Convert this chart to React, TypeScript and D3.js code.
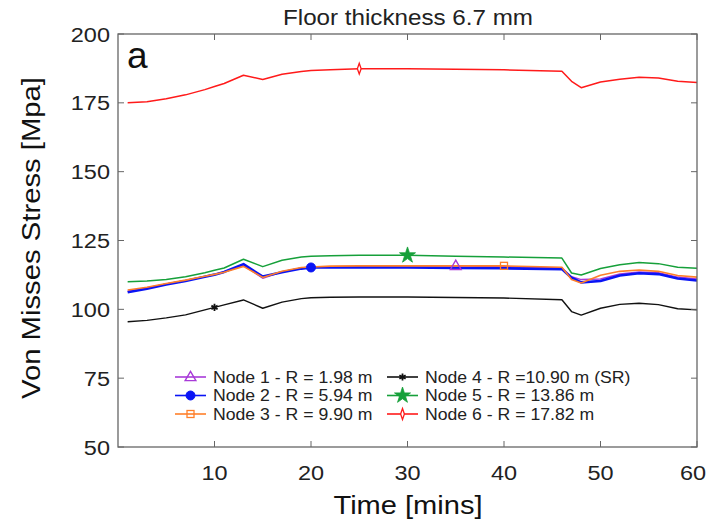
import React from 'react';
import * as d3 from 'd3';

// time samples (mins) shared by all nodes
const times = [1, 3, 5, 7, 9, 10, 11, 13, 15, 17, 19, 20, 22, 25, 30, 35, 40, 46, 47, 48, 50, 52, 54, 56, 58, 60];

const node1 = [106.6, 107.8, 109.2, 110.5, 111.9, 112.7, 113.6, 116.0, 111.3, 113.6, 115.0, 115.3, 115.5, 115.6, 115.7, 115.8, 115.5, 115.0, 111.8, 110.8, 111.0, 112.8, 113.6, 113.3, 111.7, 111.0];
const node2 = [106.2, 107.5, 109.0, 110.3, 111.8, 112.6, 113.6, 116.4, 111.9, 113.5, 114.8, 115.2, 115.2, 115.2, 115.2, 115.0, 114.9, 114.6, 111.5, 109.8, 110.3, 112.3, 113.1, 112.8, 111.2, 110.5];
const node3 = [107.0, 108.0, 109.4, 110.6, 112.0, 112.7, 113.5, 115.6, 111.6, 113.8, 115.2, 115.4, 115.7, 115.8, 115.8, 115.8, 115.8, 115.3, 110.8, 109.6, 112.4, 113.8, 114.3, 113.8, 112.3, 111.7];
const node4 = [95.5, 96.0, 96.9, 98.0, 99.8, 100.7, 101.6, 103.4, 100.4, 102.6, 103.9, 104.2, 104.4, 104.5, 104.5, 104.3, 104.1, 103.5, 99.2, 97.9, 100.4, 101.8, 102.2, 101.7, 100.2, 99.8];
const node5 = [110.0, 110.3, 110.8, 111.8, 113.3, 114.2, 115.0, 118.2, 115.5, 117.8, 119.0, 119.3, 119.5, 119.6, 119.6, 119.3, 119.0, 118.6, 113.2, 112.5, 114.8, 116.2, 117.0, 116.6, 115.3, 114.9];
const node6 = [175.0, 175.4, 176.5, 177.9, 179.8, 180.9, 182.0, 185.0, 183.5, 185.4, 186.4, 186.7, 187.0, 187.4, 187.4, 187.2, 187.0, 186.5, 182.8, 180.5, 182.6, 183.6, 184.3, 184.0, 182.8, 182.4];

const seriesLabels = [
  'Node 1 - R = 1.98 m',
  'Node 2 - R = 5.94 m',
  'Node 3 - R = 9.90 m',
  'Node 4 - R =10.90 m (SR)',
  'Node 5 - R = 13.86 m',
  'Node 6 - R = 17.82 m',
];
const seriesValues = [node1, node2, node3, node4, node5, node6];
const seriesColors = ['#a83ad8', '#0a14f5', '#ff7f2a', '#111111', '#16a03a', '#ff1a1a'];
const seriesWidths = [1.5, 2.6, 1.6, 1.4, 1.5, 1.5];
const markerTimes = [35, 20, 40, 10, 30, 25];

const xTicks = [10, 20, 30, 40, 50, 60];
const yTicks = [50, 75, 100, 125, 150, 175, 200];

const W = 707;
const H = 528;
const m = { left: 118, right: 697, top: 34, bottom: 447 };
const font = 'Arial, "Liberation Sans", Helvetica, sans-serif';

function Marker({ i, x, y }: { i: number; x: number; y: number }) {
  const c = seriesColors[i];
  if (i === 0) {
    return <path d={d3.symbol(d3.symbolTriangle, 50)()!} transform={`translate(${x},${y + 0.5})`} fill="none" stroke={c} strokeWidth={1.4} />;
  }
  if (i === 1) {
    return <circle cx={x} cy={y} r={4.5} fill={c} stroke={c} />;
  }
  if (i === 2) {
    return <rect x={x - 3.5} y={y - 3.5} width={7} height={7} fill="none" stroke={c} strokeWidth={1.3} />;
  }
  if (i === 3) {
    return <path d={d3.symbol(d3.symbolAsterisk, 36)()!} transform={`translate(${x},${y})`} fill="none" stroke={c} strokeWidth={1.8} />;
  }
  if (i === 4) {
    return <path d={d3.symbol(d3.symbolStar, 80)()!} transform={`translate(${x},${y})`} fill={c} stroke={c} strokeWidth={0.8} />;
  }
  return <path d={d3.symbol(d3.symbolDiamond, 34)()!} transform={`translate(${x},${y}) scale(0.6,1)`} fill="#fff" stroke={c} strokeWidth={2} />;
}

export default function App() {
  const x = d3.scaleLinear().domain([0, 60]).range([m.left, m.right]);
  const y = d3.scaleLinear().domain([50, 200]).range([m.bottom, m.top]);
  const line = d3
    .line<number>()
    .x((_, j) => x(times[j]))
    .y((d) => y(d));

  const drawOrder = [0, 1, 2, 3, 4, 5];
  const frame = '#666';
  const tl = 6;

  return (
    <svg width={W} height={H} style={{ position: 'absolute', left: 0, top: 0, background: '#fff' }} fontFamily={font}>
      <rect x={0} y={0} width={W} height={H} fill="#fff" />

      {/* title */}
      <text x={408} y={25} textAnchor="middle" fontSize={21.5} fill="#222" textLength={250} lengthAdjust="spacingAndGlyphs">Floor thickness 6.7 mm</text>

      {/* series */}
      {drawOrder.map((i) => (
        <path key={i} d={line(seriesValues[i])!} fill="none" stroke={seriesColors[i]} strokeWidth={seriesWidths[i]} strokeLinejoin="round" />
      ))}
      {drawOrder.map((i) => {
        const j = times.indexOf(markerTimes[i]);
        return <Marker key={'m' + i} i={i} x={x(times[j])} y={y(seriesValues[i][j])} />;
      })}

      {/* frame and ticks */}
      <rect x={m.left} y={m.top} width={m.right - m.left} height={m.bottom - m.top} fill="none" stroke={frame} strokeWidth={1.3} />
      {xTicks.map((t) => (
        <g key={'x' + t}>
          <line x1={x(t)} x2={x(t)} y1={m.bottom} y2={m.bottom - tl} stroke={frame} />
          <line x1={x(t)} x2={x(t)} y1={m.top} y2={m.top + tl} stroke={frame} />
          <text transform={`translate(${x(t) - (t === 60 ? 4 : 0)},480) scale(1.12,1)`} textAnchor="middle" fontSize={21} fill="#222">{t}</text>
        </g>
      ))}
      {yTicks.map((t) => (
        <g key={'y' + t}>
          <line x1={m.left} x2={m.left + tl} y1={y(t)} y2={y(t)} stroke={frame} />
          <line x1={m.right} x2={m.right - tl} y1={y(t)} y2={y(t)} stroke={frame} />
          <text transform={`translate(110,${y(t)}) scale(1.12,1)`} dy="0.36em" textAnchor="end" fontSize={21} fill="#222">{t}</text>
        </g>
      ))}

      {/* panel letter */}
      <text x={127} y={68} fontSize={37} fill="#111">a</text>

      {/* axis labels */}
      <text x={408} y={514} textAnchor="middle" fontSize={25} fill="#111" textLength={149} lengthAdjust="spacingAndGlyphs">Time [mins]</text>
      <text transform={`translate(40,${238}) rotate(-90)`} textAnchor="middle" fontSize={25} fill="#111" textLength={322} lengthAdjust="spacingAndGlyphs">Von Misses Stress [Mpa]</text>

      {/* legend */}
      {seriesLabels.map((lab, i) => {
        const col = Math.floor(i / 3);
        const row = i % 3;
        const lx = col === 0 ? 175 : 387;
        const ly = 377 + row * 18.5;
        return (
          <g key={'l' + i}>
            <line x1={lx} x2={lx + 31} y1={ly} y2={ly} stroke={seriesColors[i]} strokeWidth={1.6} />
            <Marker i={i} x={lx + 15.5} y={ly} />
            <text transform={`translate(${lx + 38},${ly}) scale(1.07,1)`} dy="0.36em" fontSize={16.5} fill="#222">{lab}</text>
          </g>
        );
      })}
    </svg>
  );
}
